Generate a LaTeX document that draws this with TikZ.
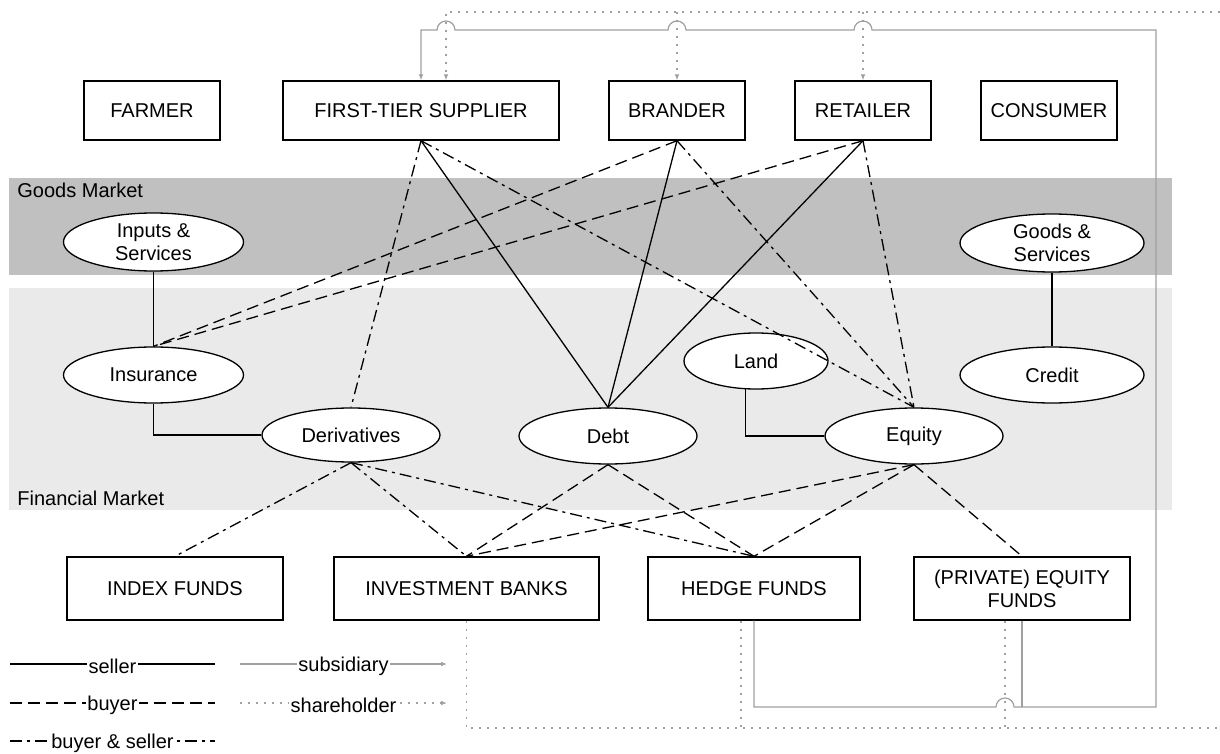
\documentclass[tikz,border=0pt]{standalone}
\usepackage{fontspec}
\setmainfont{Liberation Sans}
\usetikzlibrary{shapes.geometric,arrows.meta,calc}

\definecolor{goodsband}{HTML}{C0C0C0}
\definecolor{finband}{HTML}{EAEAEA}
\definecolor{linkgray}{HTML}{A0A0A0}

\tikzset{
  every node/.style={font=\fontsize{10pt}{11.5pt}\selectfont},
  actor/.style={draw, line width=0.7pt, fill=white, align=center, inner sep=2pt},
  market/.style={draw, ellipse, line width=0.65pt, fill=white, inner sep=0pt, align=center},
  seller/.style={line width=0.65pt},
  buyer/.style={line width=0.65pt, dash pattern=on 6pt off 3pt},
  both/.style={line width=0.65pt, dash pattern=on 6pt off 2.5pt on 1.5pt off 2.5pt},
  subs/.style={draw=linkgray, line width=0.6pt},
  share/.style={draw=linkgray, line width=0.7pt, dash pattern=on 0.9pt off 3.1pt},
  gtip/.style={-{Latex[length=3pt,width=2.4pt]}},
  legendlbl/.style={fill=white, inner sep=0.6pt, yshift=-1pt},
}

\begin{document}
\begin{tikzpicture}[x=0.5pt,y=-0.5pt]
\useasboundingbox (0,0) rectangle (1220,754);

% market bands
\fill[goodsband] (9,178) rectangle (1172,275);
\fill[finband] (9,288) rectangle (1172,510);
\node[anchor=west, inner sep=0] (goodslbl) at (17,190) {Goods Market};
\node[anchor=west, inner sep=0] (finlbl) at (17,498) {Financial Market};

% supply chain actors
\node[actor, minimum width=68pt, minimum height=29.5pt] (farmer) at (152,110.5) {FARMER};
\node[actor, minimum width=138pt, minimum height=29.5pt] (supplier) at (421,110.5) {FIRST-TIER SUPPLIER};
\node[actor, minimum width=68pt, minimum height=29.5pt] (brander) at (677,110.5) {BRANDER};
\node[actor, minimum width=68pt, minimum height=29.5pt] (retailer) at (863,110.5) {RETAILER};
\node[actor, minimum width=68pt, minimum height=29.5pt] (consumer) at (1049,110.5) {CONSUMER};

% financial actors
\node[actor, minimum width=108pt, minimum height=31.5pt] (index) at (175,588.5) {INDEX FUNDS};
\node[actor, minimum width=132.5pt, minimum height=31.5pt] (invb) at (466.5,588.5) {INVESTMENT BANKS};
\node[actor, minimum width=106pt, minimum height=31.5pt] (hedge) at (754,588.5) {HEDGE FUNDS};
\node[actor, minimum width=108pt, minimum height=31.5pt] (pe) at (1022,588.5) {(PRIVATE) EQUITY\\FUNDS};

% markets
\node[market, minimum width=90pt, minimum height=29pt] (inputs) at (153.5,242) {Inputs \&\\Services};
\node[market, minimum width=92pt, minimum height=29pt] (goodsvc) at (1052,243) {Goods \&\\Services};
\node[market, minimum width=90pt, minimum height=28pt] (insur) at (153.5,375) {Insurance};
\node[market, minimum width=92pt, minimum height=28pt] (credit) at (1052,375) {Credit};
\node[market, minimum width=72pt, minimum height=28pt] (land) at (756,361) {Land};
\node[market, minimum width=89pt, minimum height=27pt] (deriv) at (351,435) {Derivatives};
\node[market, minimum width=89pt, minimum height=28pt] (debt) at (608,436) {Debt};
\node[market, minimum width=89pt, minimum height=28pt] (equity) at (914,436) {Equity};

% links between markets
\draw[seller] (inputs.south) -- (insur.north);
\draw[seller] (insur.south) |- (deriv.west);
\draw[seller] (land.250) |- (equity.west);
\draw[seller] (goodsvc.south) -- (credit.north);

% supply chain actors in financial markets
\draw[seller] (supplier.south) -- (debt.north);
\draw[both] (supplier.south) -- (deriv.north);
\draw[both] (supplier.south) -- (equity.north);
\draw[buyer] (brander.south) -- (insur.north);
\draw[seller] (brander.south) -- (debt.north);
\draw[both] (brander.south) -- (equity.north);
\draw[buyer] (retailer.south) -- (insur.north);
\draw[seller] (retailer.south) -- (debt.north);
\draw[both] (retailer.south) -- (equity.north);

% financial actors in financial markets
\draw[both] (deriv.south) -- (index.north);
\draw[both] (deriv.south) -- (invb.north);
\draw[both] (deriv.south) -- (hedge.north);
\draw[buyer] (debt.south) -- (invb.north);
\draw[buyer] (debt.south) -- (hedge.north);
\draw[buyer] (equity.south) -- (invb.north);
\draw[buyer] (equity.south) -- (hedge.north);
\draw[buyer] (equity.south) -- (pe.north);

% shareholder links
\coordinate (easttop) at (1220,12);
\coordinate (eastbot) at (1220,728);
\coordinate (shsup) at ([xshift=12.5pt]supplier.north);
\coordinate (shhedge) at ([xshift=-6.5pt]hedge.south);
\coordinate (shpe) at ([xshift=-8.5pt]pe.south);
\draw[share] (invb.south) |- (eastbot);
\draw[share] (shhedge) -- (shhedge |- eastbot);
\draw[share] (shpe) -- (shpe |- eastbot);
\draw[share, gtip] (easttop) -| (shsup);
\draw[share, gtip] (brander.north |- easttop) -- (brander.north);
\draw[share, gtip] (retailer.north |- easttop) -- (retailer.north);

% subsidiary links
\coordinate (botR) at (1156,707);
\coordinate (topR) at (1156,30);
\coordinate (topL) at (421,30);
\draw[subs, gtip] (hedge.south) |- (996,707)
  arc[start angle=180, end angle=0, radius=4.5pt] -- (botR) -- (topR)
  -- (872,30) arc[start angle=0, end angle=180, radius=4.5pt]
  -- (686,30) arc[start angle=0, end angle=180, radius=4.5pt]
  -- (455,30) arc[start angle=0, end angle=180, radius=4.5pt]
  -- (topL) -- (supplier.north);
\draw[subs] (pe.south) -- (pe.south |- botR);

% legend
\draw[seller] (10,664) -- (215,664) node[midway, legendlbl] (lgseller) {seller};
\draw[buyer] (10,703) -- (215,703) node[midway, legendlbl] (lgbuyer) {buyer};
\draw[both] (10,741) -- (215,741) node[midway, legendlbl] (lgboth) {buyer \& seller};
\draw[subs, gtip] (240,664) -- (447,664) node[midway, legendlbl] (lgsubs) {subsidiary};
\draw[share, gtip] (240,703) -- (447,703) node[midway, legendlbl] (lgshare) {shareholder};
\end{tikzpicture}
\end{document}
